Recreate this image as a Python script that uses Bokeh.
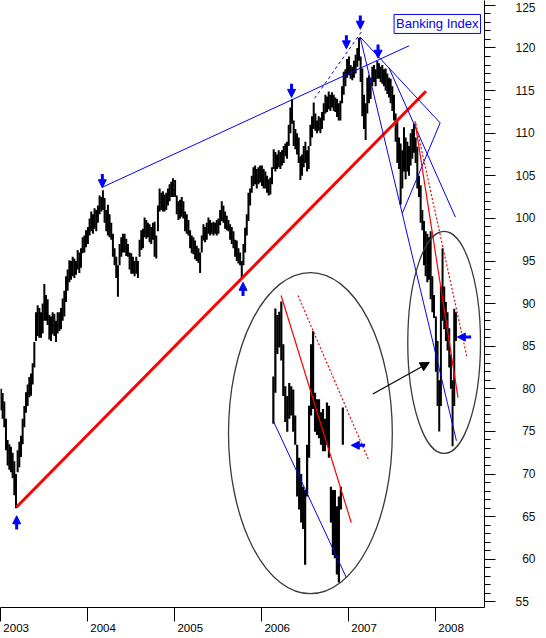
from datetime import datetime, timedelta
from bokeh.plotting import figure
from bokeh.models import (Range1d, LinearAxis, FixedTicker, SingleIntervalTicker, ColumnDataSource,
                          Label, Arrow, NormalHead)
from bokeh.embed import file_html
from bokeh.resources import INLINE

# ---------------- data (weekly high / low of the Banking Index) ----------------
hi_2003 = [80.0,79.5,78.5,76.5,74.0,73.5,73.2,72.5,71.5,70.0,72.8,73.8,74.5,76.5,78.0,79.6,80.5,81.4,81.8,83.0,85.5,89.0,89.8,89.5,89.0,90.0,92.3,91.0,90.5,88.7,88.5,89.0,88.8,88.0,89.0,89.0,89.5,90.6,91.5,93.2,94.0,95.1,95.0,95.5,95.3,95.0,96.3,96.0,96.5,97.8,98.0,98.6]
lo_2003 = [77.5,76.5,75.5,72.8,71.0,70.5,70.2,69.5,67.5,66.0,70.2,70.8,72.0,73.5,75.5,77.2,78.0,79.0,79.2,80.5,82.5,85.6,86.2,86.0,86.0,86.5,88.0,88.0,87.5,85.8,85.6,86.4,86.2,85.5,86.5,86.8,87.0,88.0,88.5,90.2,91.5,92.5,92.8,93.2,93.0,93.4,94.0,93.6,94.2,95.9,96.0,96.6]
hi_2004 = [99.0,100.0,100.8,100.5,101.2,101.0,101.5,102.7,102.5,103.3,102.4,101.0,101.6,100.5,99.5,98.2,96.5,95.5,94.5,97.0,97.8,98.2,98.2,97.6,97.0,96.0,95.9,95.5,95.0,95.5,95.0,97.5,98.6,98.8,100.1,99.8,99.5,99.3,99.0,99.5,99.6,98.0,101.5,103.5,103.0,103.2,102.8,103.0,103.5,104.0,104.3,104.7]
lo_2004 = [97.0,98.0,98.5,98.2,98.8,98.5,99.5,100.5,100.8,101.0,99.5,98.5,98.0,97.8,97.5,95.5,94.5,93.0,90.8,94.5,95.5,96.0,96.0,95.6,95.5,94.0,93.5,93.5,93.2,93.5,93.0,95.5,96.3,96.5,97.8,97.6,97.8,97.2,97.0,97.5,95.5,95.3,98.5,100.8,101.0,100.8,100.8,101.0,101.5,102.0,102.5,102.5]
hi_2005 = [104.5,102.7,102.0,102.2,102.5,102.0,100.8,100.5,99.8,98.6,98.0,97.8,97.4,96.8,96.5,96.0,98.0,99.3,99.0,99.5,100.1,99.8,99.5,99.6,99.5,99.8,100.0,101.0,102.0,101.5,100.8,100.3,99.8,99.3,99.0,98.5,97.5,97.4,96.5,96.0,95.0,97.0,98.9,100.5,103.0,103.5,105.0,106.0,106.2,105.8,106.0,106.2]
lo_2005 = [102.5,100.5,99.8,100.0,100.2,100.0,98.5,98.2,98.0,96.5,95.9,95.8,95.2,95.0,94.8,93.6,96.0,97.4,97.2,97.5,98.2,98.0,98.2,98.0,98.2,98.0,98.2,99.2,99.7,99.5,98.8,98.6,98.5,97.5,97.0,96.5,95.5,95.0,94.7,94.5,93.0,94.5,96.0,98.0,99.7,101.5,103.0,103.8,104.0,103.5,104.0,104.2]
hi_2006 = [106.2,105.8,105.5,105.0,104.6,104.8,106.0,108.1,107.8,107.5,108.0,107.8,108.0,108.5,108.8,109.0,111.0,113.0,114.0,111.5,110.5,110.0,109.5,107.3,107.5,108.5,109.0,108.0,108.5,111.0,112.0,113.6,112.3,111.5,112.0,111.8,112.5,113.5,114.5,114.3,114.9,114.5,114.8,114.5,114.2,114.0,113.5,113.8,115.5,117.2,117.5,118.7]
lo_2006 = [103.8,103.5,103.5,103.0,102.7,102.8,104.0,105.8,105.5,105.8,106.0,105.8,106.2,106.5,107.3,107.0,108.5,110.0,111.1,108.5,108.1,107.5,106.5,104.5,105.0,106.0,106.5,105.5,105.8,108.5,109.5,110.5,110.3,110.0,110.3,110.0,110.5,111.5,112.3,112.5,112.8,112.6,113.0,112.6,112.5,111.9,111.5,111.5,113.5,114.5,115.5,116.5]
hi_2007 = [119.0,118.0,117.8,118.5,119.2,120.0,121.2,119.0,117.6,114.5,113.5,116.5,116.8,116.5,117.8,118.0,117.5,118.5,118.2,117.8,118.0,117.5,117.6,117.0,116.5,116.4,115.5,114.5,112.3,111.5,109.5,108.8,108.0,110.7,109.5,109.0,108.5,110.0,110.5,111.1,109.5,108.4,105.0,103.9,101.0,99.7,98.5,98.2,97.8,98.5,93.2,91.0]
lo_2007 = [116.8,116.4,116.2,116.5,117.0,117.8,118.5,116.0,112.0,110.5,109.2,112.3,113.5,114.0,115.5,116.0,115.5,116.4,116.4,116.0,115.8,115.5,115.0,114.6,114.2,113.5,112.6,111.5,109.0,106.5,105.8,101.6,103.5,105.5,104.6,105.5,105.0,106.2,107.0,107.7,106.5,103.5,102.5,99.5,98.6,94.5,93.2,92.5,92.8,90.5,89.0,88.3]
hi_2008 = [88.5,85.6,81.0,92.0,96.5,92.0,90.2,89.0,87.1,84.0,81.0,89.4,89.0]
lo_2008 = [82.0,78.0,75.0,78.0,88.0,87.0,85.6,84.5,82.5,80.0,73.25,78.0,85.6]

# zoomed-in inset (last months, daily-ish bars), prices
inset_hi = [92.3,98.6,98.0,98.3,99.26,95.3,91.4,90.5,91.7,91.4,91.1,88.7,86.0,84.8,83.3,82.1,81.8,86.0,89.6,95.3,96.5,90.8,90.2,90.2,89.0,89.3,88.4,89.9,89.6,82.1,81.8,81.8,80.3,81.2,82.1,89.45]
inset_lo = [87.95,90.8,94.4,95.0,93.8,90.5,88.1,87.2,88.4,88.7,87.2,86.0,81.2,80.0,78.8,78.2,74.9,81.2,84.8,88.7,89.3,87.2,86.9,86.6,86.0,85.4,85.4,86.0,84.8,78.8,75.8,75.5,74.0,73.25,80.0,86.0]

year_labels = ["2003", "2004", "2005", "2006", "2007", "2008"]
price_ticks = [60, 65, 70, 75, 80, 85, 90, 95, 100, 105, 110, 115, 120, 125]
title_text = "Banking Index"

# annotation anchors (fractional year, index value)
red_trend = [(2003.182, 66.11), (2007.891, 114.92)]
blue_lines = [[(2004.165, 103.63), (2007.697, 120.26)],
              [(2007.134, 121.28), (2008.241, 73.91)],
              [(2007.134, 121.28), (2008.054, 111.21)],
              [(2007.620, 100.62), (2008.054, 111.21)],
              [(2007.464, 117.71), (2008.229, 100.15)]]
blue_dashed = [(2006.610, 114.09), (2007.161, 122.07)]
red_solid_main = [(2007.764, 111.42), (2008.259, 78.96)]
red_dotted_main = [(2007.775, 111.11), (2008.362, 83.71)]
red_solid_inset = [(2006.225, 90.95), (2007.032, 64.30)]
red_dotted_inset = [(2006.419, 90.95), (2007.236, 71.54)]
blue_inset = [(2006.140, 76.11), (2006.976, 57.84)]
zoom_arrow = [(2007.28, 79.4), (2007.93, 83.1)]
down_arrows = [(2004.171, 105.2, 103.6), (2006.345, 115.8, 114.2), (2006.976, 121.5, 119.9),
               (2007.136, 123.8, 122.2), (2007.340, 120.4, 118.8)]
up_arrows = [(2003.186, 63.5, 65.1), (2005.787, 90.9, 92.5)]
left_arrows = [(2008.41, 2008.251, 86.07), (2007.19, 2007.032, 73.37)]
ellipses = [(2006.562, 74.8, 1.883, 37.7), (2008.100, 85.45, 0.836, 26.07)]

# ---------------- helpers ----------------
EPOCH = datetime(1970, 1, 1)
YEAR_MS = 365.25 * 86400000.0


def ms(dt):
    return (dt - EPOCH).total_seconds() * 1000.0


def yr(f):
    y = int(f // 1)
    a = ms(datetime(y, 1, 1))
    b = ms(datetime(y + 1, 1, 1))
    return a + (b - a) * (f - y)


xs, his, los = [], [], []
for Y, h, l in [(2003, hi_2003, lo_2003), (2004, hi_2004, lo_2004), (2005, hi_2005, lo_2005),
                (2006, hi_2006, lo_2006), (2007, hi_2007, lo_2007), (2008, hi_2008, lo_2008)]:
    for w, (a, b) in enumerate(zip(h, l)):
        xs.append(ms(datetime(Y, 1, 3) + timedelta(days=7 * w)))
        his.append(a)
        los.append(b)

# inset placement (magnified copy)
INSET_X0, INSET_DX = 2006.136, 0.02283
INSET_A, INSET_B = -35.64, 1.2684
ix = [yr(INSET_X0 + i * INSET_DX) for i in range(len(inset_hi))]
ihi = [INSET_A + INSET_B * v for v in inset_hi]
ilo = [INSET_A + INSET_B * v for v in inset_lo]

FONT = "Liberation Sans"
BLUE = "#0000ff"
RED = "#ff0000"
FIGSP = "\u2007"

p = figure(frame_width=484, frame_height=607,
           x_range=Range1d(yr(2003.0), yr(2008.563)), y_range=Range1d(54.34, 125.57),
           output_backend="svg", toolbar_location=None,
           x_axis_location=None, y_axis_location=None,
           min_border=0, min_border_right=46, min_border_bottom=14)
p.outline_line_color = None
p.background_fill_color = "white"
p.border_fill_color = "white"
p.xgrid.visible = False
p.ygrid.visible = False

# right price axis (labels right-aligned with figure spaces)
ry = LinearAxis(ticker=SingleIntervalTicker(interval=5, num_minor_ticks=5),
                major_tick_out=11, major_tick_in=0, minor_tick_out=6, minor_tick_in=0,
                major_label_standoff=20,
                major_label_overrides={v: (FIGSP * (3 - len(str(v)))) + str(v) for v in price_ticks},
                major_label_text_font=FONT, major_label_text_font_size="12px",
                major_label_text_color="#111111",
                axis_line_color="black", major_tick_line_color="black", minor_tick_line_color="black")
p.add_layout(ry, "right")

# bottom time axis: separators at year starts (minor ticks), labels just right of them
year_starts = [int(ms(datetime(int(t), 1, 1))) for t in year_labels]
label_pos = [int(yr(int(t) + 0.18)) for t in year_labels]
bx = LinearAxis(ticker=FixedTicker(ticks=label_pos, minor_ticks=year_starts),
                major_tick_out=0, major_tick_in=0, minor_tick_out=14, minor_tick_in=0,
                major_label_standoff=2,
                major_label_overrides={lp: t for lp, t in zip(label_pos, year_labels)},
                major_label_text_font=FONT, major_label_text_font_size="11.5px",
                major_label_text_color="black",
                axis_line_color="black", minor_tick_line_color="black")
p.add_layout(bx, "below")

# price bars
bsrc = ColumnDataSource(dict(x=xs, hi=his, lo=los))
p.segment(x0="x", y0="lo", x1="x", y1="hi", source=bsrc, line_color="black", line_width=2.0)
isrc = ColumnDataSource(dict(x=ix, hi=ihi, lo=ilo))
p.segment(x0="x", y0="lo", x1="x", y1="hi", source=isrc, line_color="black", line_width=2.2)


def seg(pts, **kw):
    (x0, y0), (x1, y1) = pts
    p.segment(x0=[yr(x0)], y0=[y0], x1=[yr(x1)], y1=[y1], **kw)


seg(red_trend, line_color=RED, line_width=3)
for bl in blue_lines:
    seg(bl, line_color=BLUE, line_width=1)
seg(blue_dashed, line_color=BLUE, line_width=1, line_dash="3 3")
seg(red_solid_main, line_color=RED, line_width=1.2)
seg(red_dotted_main, line_color=RED, line_width=1.2, line_dash="2 2")
seg(red_solid_inset, line_color=RED, line_width=1.2)
seg(red_dotted_inset, line_color=RED, line_width=1.2, line_dash="2 2")
seg(blue_inset, line_color=BLUE, line_width=1)

# ellipses
p.ellipse(x=[yr(e[0]) for e in ellipses], y=[e[1] for e in ellipses],
          width=[e[2] * YEAR_MS for e in ellipses], height=[e[3] for e in ellipses],
          fill_color=None, line_color="#3a3a3a", line_width=1.3)

# black arrow towards the small ellipse
p.add_layout(Arrow(end=NormalHead(size=9, fill_color="black", line_color="black"),
                   x_start=yr(zoom_arrow[0][0]), y_start=zoom_arrow[0][1],
                   x_end=yr(zoom_arrow[1][0]), y_end=zoom_arrow[1][1],
                   line_color="black", line_width=1.2))

# blue marker arrows
asrc = ColumnDataSource(dict(
    xs=[yr(a[0]) for a in down_arrows] + [yr(a[0]) for a in up_arrows] + [yr(a[0]) for a in left_arrows],
    ys=[a[1] for a in down_arrows] + [a[1] for a in up_arrows] + [a[2] for a in left_arrows],
    xe=[yr(a[0]) for a in down_arrows] + [yr(a[0]) for a in up_arrows] + [yr(a[1]) for a in left_arrows],
    ye=[a[2] for a in down_arrows] + [a[2] for a in up_arrows] + [a[2] for a in left_arrows]))
p.add_layout(Arrow(end=NormalHead(size=8, fill_color=BLUE, line_color=BLUE),
                   x_start="xs", y_start="ys", x_end="xe", y_end="ye", source=asrc,
                   line_color=BLUE, line_width=3))

# title box
p.add_layout(Label(x=yr(2007.49), y=124.05, text=title_text, text_baseline="top", text_align="left",
                   text_font=FONT, text_font_size="13px", text_color=BLUE,
                   border_line_color=BLUE, border_line_width=1, padding=2,
                   background_fill_color="white", x_offset=3, y_offset=-1))

open("out.html", "w").write(file_html(p, INLINE))
